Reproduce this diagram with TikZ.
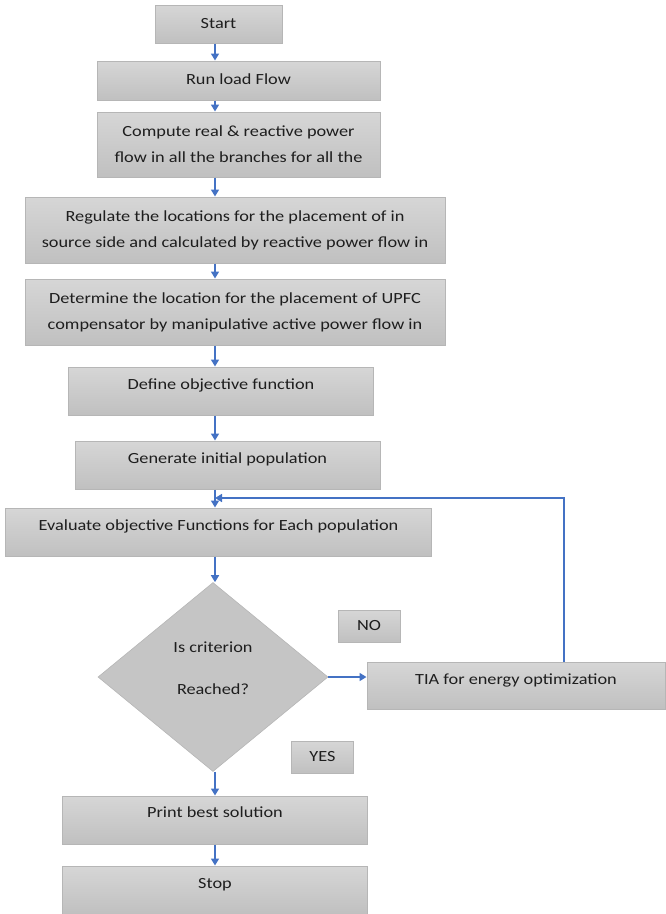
\documentclass[tikz,border=0pt]{standalone}
\usepackage{fontspec}
\setmainfont{Carlito}[FakeStretch=1.18]
\usetikzlibrary{arrows.meta,shapes.geometric,calc}
\definecolor{flowblue}{RGB}{68,114,196}
\definecolor{boxtop}{RGB}{214,214,214}
\definecolor{boxbot}{RGB}{192,192,192}
\definecolor{boxline}{RGB}{182,182,182}
\definecolor{boxtext}{RGB}{30,30,30}
\tikzset{
  stepbox/.style={draw=boxline,line width=1pt,top color=boxtop,bottom color=boxbot,text=boxtext,align=center,inner sep=0pt},
  single/.style={stepbox,text height=12pt,text depth=4pt},
  upper/.style={single,text depth=16pt},
  decide/.style={diamond,fill=boxbot!92!white,draw=boxline,line width=0.6pt,inner sep=0pt},
  flow/.style={draw=flowblue,line width=1.6pt,-{Triangle[length=7pt,width=8pt]}}
}

\begin{document}
\begin{tikzpicture}[x=1pt,y=-1pt,font=\fontsize{15.5}{26}\selectfont]
\useasboundingbox (0,0) rectangle (665,914);
\coordinate (ax) at (215,0);
\coordinate (loop) at (564,0);
\coordinate (join) at (215,498);
\node[single,minimum width=127pt,minimum height=38pt] (start) at (218.5,24) {Start};
\node[single,minimum width=283pt,minimum height=39pt] (run) at (238.5,80.5) {Run load Flow};
\node[stepbox,minimum width=283pt,minimum height=65pt] (comp) at (238.5,144.5) {Compute real \& reactive power\\flow in all the branches for all the};
\node[stepbox,minimum width=420pt,minimum height=66pt] (reg) at (235,230) {Regulate the locations for the placement of in\\source side and calculated by reactive power flow in};
\node[stepbox,minimum width=420pt,minimum height=66pt] (det) at (235,312) {Determine the location for the placement of UPFC\\compensator by manipulative active power flow in};
\node[upper,minimum width=305pt,minimum height=48pt] (obj) at (221,391) {Define objective function};
\node[upper,minimum width=305pt,minimum height=48pt] (gen) at (227.5,465) {Generate initial population};
\node[upper,minimum width=426pt,minimum height=48pt] (eval) at (218.5,532) {Evaluate objective Functions for Each population};
\node[decide,minimum width=230pt,minimum height=189pt,
  label={[name=critlbl,align=center,text=boxtext,yshift=8.5pt]center:Is criterion\\[16pt]Reached?}] (crit) at (213,677) {};
\node[single,minimum width=62pt,minimum height=32pt] (no) at (369,626) {NO};
\node[upper,text depth=14pt,minimum width=298pt,minimum height=47pt] (tia) at (516,685.5) {TIA for energy optimization};
\node[single,minimum width=62pt,minimum height=32pt] (yes) at (322.5,757) {YES};
\node[upper,text depth=18pt,minimum width=305pt,minimum height=48pt] (best) at (215,820) {Print best solution};
\node[upper,minimum width=305pt,minimum height=48pt] (stop) at (215,890) {Stop};
\draw[flow] (start.south -| ax) -- (run.north -| ax);
\draw[flow] (run.south -| ax) -- (comp.north -| ax);
\draw[flow] (comp.south -| ax) -- (reg.north -| ax);
\draw[flow] (reg.south -| ax) -- (det.north -| ax);
\draw[flow] (det.south -| ax) -- (obj.north -| ax);
\draw[flow] (obj.south -| ax) -- (gen.north -| ax);
\draw[flow] (gen.south -| ax) -- (eval.north -| ax);
\draw[flow] (eval.south -| ax) -- (crit.north -| ax);
\draw[flow] (crit.east) -- (crit.east -| tia.west);
\draw[flow] (tia.north -| loop) |- (join);
\draw[flow] (crit.south -| ax) -- (best.north -| ax);
\draw[flow] (best.south -| ax) -- (stop.north -| ax);
\end{tikzpicture}
\end{document}
